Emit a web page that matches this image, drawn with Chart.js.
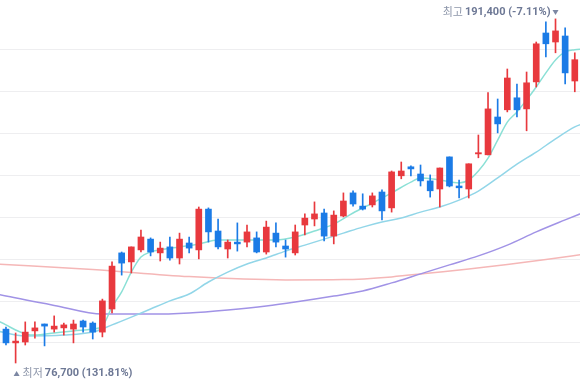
<!DOCTYPE html>
<html>
<head>
<meta charset="utf-8">
<script src="https://cdn.jsdelivr.net/npm/chart.js@4.4.1/dist/chart.umd.min.js"></script>
<style>
  html, body { margin: 0; background: #fff; }
  #wrap { width: 580px; height: 384px; position: relative; }
</style>
</head>
<body>
<div id="wrap"><canvas id="chart"></canvas></div>
<script>
// daily candles, oldest first
const opens = [
  88000, 83400, 83700, 87400, 89700, 88000, 88400, 88000, 90700, 90000,
  87000, 94700, 113400, 110400, 114400, 118000, 113400, 115400, 111700, 116700,
  114400, 128000, 120700, 114700, 117000, 117000, 118400, 113700, 120000, 115700,
  113400, 122700, 124700, 126700, 119000, 125700, 133400, 129000, 129400, 133700,
  128400, 139100, 142100, 139700, 137400, 134700, 145400, 135700, 134700, 146400,
  146100, 158700, 161100, 165100, 161400, 170400, 186700, 183700, 185700, 170700
];
const highs = [
  88700, 86700, 90400, 90400, 89700, 92400, 90000, 91000, 91000, 90400,
  98000, 110400, 113700, 115400, 121000, 118400, 117000, 118700, 120000, 118700,
  128700, 128400, 124700, 117700, 123400, 122700, 120400, 124000, 123400, 117700,
  122700, 126400, 130400, 128000, 127400, 133400, 134100, 133100, 133400, 134400,
  140700, 143700, 142400, 142700, 139400, 141700, 145400, 137700, 143100, 152700,
  166800, 164700, 174700, 169700, 173700, 183700, 190400, 191400, 188400, 180100
];
const lows = [
  82700, 76700, 82700, 85000, 82400, 87000, 86000, 83400, 87000, 84700,
  85400, 93400, 106000, 106700, 113700, 112400, 110700, 111000, 109700, 113400,
  111400, 117000, 114700, 111700, 114000, 115400, 113400, 113000, 115400, 112000,
  112700, 119400, 122400, 117400, 116400, 125400, 129000, 127700, 128700, 124400,
  127000, 138100, 139100, 135700, 132000, 128700, 135400, 131700, 131700, 145100,
  146100, 153400, 160400, 158700, 154100, 168700, 178700, 180100, 169700, 167100
];
const closes = [
  83400, 84000, 87000, 88400, 89000, 89000, 89400, 89700, 88700, 87000,
  97400, 109000, 110000, 115400, 118700, 113700, 115000, 111700, 118000, 115000,
  128000, 120400, 115400, 117000, 116400, 120400, 113700, 122000, 117000, 114700,
  120400, 125000, 126400, 119000, 126000, 130700, 129700, 128000, 132400, 127400,
  140400, 140700, 141400, 137400, 134100, 141700, 135700, 135100, 143100, 146800,
  161400, 156400, 171700, 161100, 170100, 183100, 183100, 187400, 173400, 177800
];

const ma5Days = [-1, 0, 1, 2, 3, 5, 7, 9, 10, 11, 12, 13, 14, 15, 16, 18, 20, 22, 24, 26, 28, 30, 32, 34, 36, 38, 40, 42, 43, 45, 47, 48, 49, 50, 51, 52, 53, 54, 55, 56, 57, 58, 59, 60];
const ma5Values = [91000, 89400, 87700, 86400, 86000, 86700, 87400, 88000, 89000, 95400, 100400, 107000, 112000, 113700, 114400, 115400, 116400, 117700, 117700, 117700, 117700, 118700, 120700, 123000, 126700, 130000, 133400, 137000, 138400, 137700, 136700, 137700, 140700, 145000, 151000, 157000, 160400, 164400, 168700, 173400, 177700, 180400, 181100, 181400];
const ma20Days = [-1, 2, 6, 9, 11, 13, 15, 17, 19, 21, 23, 25, 27, 29, 31, 33, 35, 37, 39, 41, 43, 45, 47, 49, 51, 53, 55, 57, 59, 60];
const ma20Values = [87400, 85700, 86000, 87000, 89400, 92000, 94700, 97400, 99700, 103700, 107000, 109700, 111700, 114000, 116000, 118000, 120000, 122000, 123700, 125000, 127000, 128700, 131000, 134000, 138400, 143000, 147000, 151400, 155400, 156700];
const ma60Days = [-1, 0, 5, 10, 15, 19, 23, 27, 30, 34, 37, 40, 43, 46, 49, 52, 55, 58, 60];
const ma60Values = [99700, 99000, 95900, 93000, 93000, 93400, 94400, 95700, 97000, 99000, 100700, 103400, 106400, 109400, 112400, 116000, 120400, 124400, 127000];
const ma120Days = [-1, 9, 19, 29, 35, 40, 44, 48, 52, 56, 60];
const ma120Values = [109700, 107900, 105500, 104400, 104500, 105400, 106700, 108000, 109500, 111200, 113000];

// horizontal guide lines
const gridValues = [83400, 97350, 111300, 125250, 139200, 153150, 167100, 181050];

const UP = "#e8393e";
const DOWN = "#1b7be6";

const candleColors = closes.map((c, i) => (c >= opens[i] ? UP : DOWN));
const pts = (days, vals) => days.map((d, i) => ({ x: d, y: vals[i] }));

const maLine = (label, days, vals, color) => ({
  type: "line",
  label,
  data: pts(days, vals),
  borderColor: color,
  borderWidth: 1.5,
  pointRadius: 0,
  cubicInterpolationMode: "monotone",
  order: 3,
});

// high / low markers
const fmt = (v) => v.toLocaleString("en-US");
const extremes = {
  id: "extremes",
  afterDatasetsDraw(chart) {
    const { ctx, scales } = chart;
    const last = closes[closes.length - 1];
    const hi = Math.max(...highs);
    const lo = Math.min(...lows);
    const hiX = scales.x.getPixelForValue(highs.indexOf(hi));
    const hiY = scales.y.getPixelForValue(hi) - 7;
    const loX = scales.x.getPixelForValue(lows.indexOf(lo));
    const loY = scales.y.getPixelForValue(lo) + 10;
    const hiPct = (((last - hi) / hi) * 100).toFixed(2);
    const loPct = (((last - lo) / lo) * 100).toFixed(2);

    ctx.save();
    ctx.textBaseline = "middle";
    const light = "11px 'Noto Sans CJK KR'";
    const bold = "bold 11px Roboto, 'Noto Sans CJK KR'";

    // top: text to the left of the ▼
    ctx.fillStyle = "#7c87a3";
    ctx.beginPath();
    ctx.moveTo(hiX - 3, hiY - 2);
    ctx.lineTo(hiX + 3, hiY - 2);
    ctx.lineTo(hiX, hiY + 3);
    ctx.fill();
    ctx.textAlign = "right";
    ctx.font = bold;
    ctx.fillStyle = "#6d7895";
    const hiText = fmt(hi) + " (" + hiPct + "%)";
    ctx.fillText(hiText, hiX - 5, hiY + 0.5);
    const w1 = ctx.measureText(hiText).width;
    ctx.font = light;
    ctx.fillStyle = "#8d96aa";
    ctx.fillText("최고", hiX - 7 - w1, hiY);

    // bottom: ▲ then text to the right
    ctx.fillStyle = "#7c87a3";
    ctx.beginPath();
    ctx.moveTo(loX - 2, loY + 3);
    ctx.lineTo(loX + 4, loY + 3);
    ctx.lineTo(loX + 1, loY - 2);
    ctx.fill();
    ctx.textAlign = "left";
    ctx.font = light;
    ctx.fillStyle = "#8d96aa";
    ctx.fillText("최저", loX + 7, loY);
    const w2 = ctx.measureText("최저").width;
    ctx.font = bold;
    ctx.fillStyle = "#6d7895";
    ctx.fillText(fmt(lo) + " (" + loPct + "%)", loX + 9 + w2, loY + 0.5);
    ctx.restore();
  },
};

new Chart(document.getElementById("chart"), {
  type: "bar",
  data: {
    datasets: [
      {
        label: "body",
        data: opens.map((o, i) => ({ x: i, y: [o, closes[i]] })),
        backgroundColor: candleColors,
        barThickness: 6,
        minBarLength: 1,
        grouped: false,
        order: 1,
      },
      {
        label: "wick",
        data: lows.map((l, i) => ({ x: i, y: [l, highs[i]] })),
        backgroundColor: candleColors,
        barThickness: 1,
        grouped: false,
        order: 2,
      },
      maLine("MA5", ma5Days, ma5Values, "#8be0d6"),
      maLine("MA20", ma20Days, ma20Values, "#92d6e8"),
      maLine("MA60", ma60Days, ma60Values, "#a193e6"),
      maLine("MA120", ma120Days, ma120Values, "#f5b7b7"),
    ],
  },
  options: {
    responsive: true,
    maintainAspectRatio: false,
    animation: false,
    layout: { padding: 0 },
    plugins: { legend: { display: false }, tooltip: { enabled: false } },
    scales: {
      x: {
        type: "linear",
        min: -0.62,
        max: 59.54,
        offset: false,
        display: false,
      },
      y: {
        min: 69700,
        max: 197700,
        border: { display: false },
        grid: { color: "#eeeef0", drawTicks: false },
        ticks: { display: false },
        afterBuildTicks: (scale) => {
          scale.ticks = gridValues.map((v) => ({ value: v }));
        },
        afterFit: (scale) => {
          scale.width = 0;
        },
      },
    },
  },
  plugins: [extremes],
});
</script>
</body>
</html>
